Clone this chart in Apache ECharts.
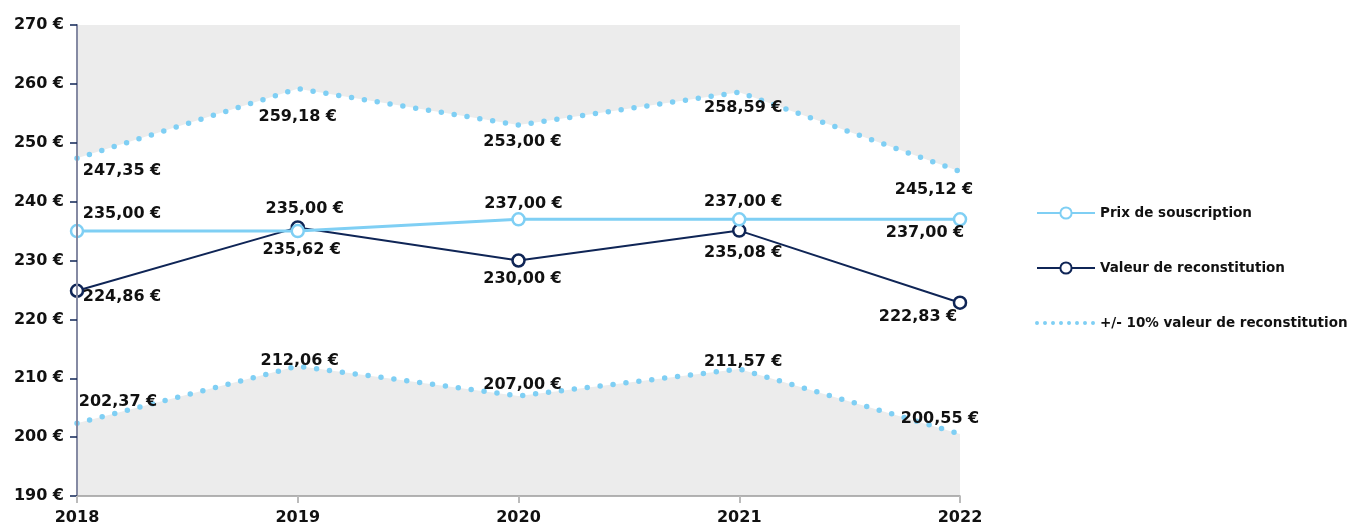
<!DOCTYPE html>
<html>
<head>
<meta charset="utf-8">
<script src="https://cdn.jsdelivr.net/npm/echarts@6/dist/echarts.min.js"></script>
<style>
    html, body { margin: 0; padding: 0; background: #fff; }
    #chart { width: 1355px; height: 526px; }
</style>
</head>
<body>
<div id="chart"></div>
<script>
    var years = ['2018', '2019', '2020', '2021', '2022'];
    var prixSouscription = [235.00, 235.00, 237.00, 237.00, 237.00];
    var valeurReconstitution = [224.86, 235.62, 230.00, 235.08, 222.83];
    var bandeHaute = [247.35, 259.18, 253.00, 258.59, 245.12];
    var bandeBasse = [202.37, 212.06, 207.00, 211.57, 200.55];

    var lightBlue = '#7fcff4';
    var navy = '#0f2556';
    var font = 'DejaVu Sans';

    function euro(v) {
        return v.toFixed(2).replace('.', ',') + ' €';
    }

    // label offsets relative to each point (px)
    function withLabels(values, offsets) {
        return values.map(function (v, i) {
            return {
                value: v,
                label: { offset: offsets[i] }
            };
        });
    }

    var labelStyle = {
        show: true,
        position: 'inside',
        align: 'center',
        verticalAlign: 'middle',
        formatter: function (p) { return euro(p.value); },
        fontFamily: font,
        fontWeight: 'bold',
        fontSize: 16,
        color: '#111'
    };

    var dotted = {
        color: lightBlue,
        width: 5.5,
        type: [0, 13],
        cap: 'round'
    };

    var chart = echarts.init(document.getElementById('chart'));
    chart.setOption({
        animation: false,
        grid: {
            left: 77,
            right: 395,
            top: 25,
            bottom: 29,
            show: true,
            backgroundColor: '#ececec',
            borderWidth: 0
        },
        legend: {
            orient: 'vertical',
            left: 1030,
            top: 201,
            itemWidth: 58,
            itemHeight: 14,
            itemGap: 41,
            data: [
                'Prix de souscription',
                'Valeur de reconstitution',
                {
                    name: '+/- 10% valeur de reconstitution',
                    itemStyle: { opacity: 0 },
                    lineStyle: { color: lightBlue, width: 4, type: [0, 8], cap: 'round' }
                }
            ],
            textStyle: { fontFamily: font, fontWeight: 'bold', fontSize: 13.5, color: '#111' }
        },
        xAxis: {
            type: 'category',
            data: years,
            boundaryGap: false,
            axisLine: { lineStyle: { color: '#9a9a9a', width: 1.5 } },
            axisTick: { show: true, length: 7, lineStyle: { color: '#bbb', width: 2 } },
            axisLabel: { fontFamily: font, fontWeight: 'bold', fontSize: 16, color: '#111', margin: 14 },
            z: 10
        },
        yAxis: {
            type: 'value',
            min: 190,
            max: 270,
            interval: 10,
            axisLine: { show: true, lineStyle: { color: '#858aa3', width: 2 } },
            axisTick: { show: true, length: 7, lineStyle: { color: navy, width: 1.5 } },
            splitLine: { show: false },
            axisLabel: {
                fontFamily: font, fontWeight: 'bold', fontSize: 16, color: '#111', margin: 13,
                formatter: function (v) { return v + ' €'; }
            },
            z: 10
        },
        series: [
            // white band between the +/- 10% limits
            {
                type: 'line',
                stack: 'band',
                data: bandeBasse,
                symbol: 'none',
                lineStyle: { opacity: 0 },
                silent: true
            },
            {
                type: 'line',
                stack: 'band',
                data: bandeHaute.map(function (v, i) { return +(v - bandeBasse[i]).toFixed(2); }),
                symbol: 'none',
                lineStyle: { opacity: 0 },
                areaStyle: { color: '#ffffff', opacity: 1 },
                silent: true
            },
            {
                name: '+/- 10% valeur de reconstitution',
                type: 'line',
                data: bandeHaute,
                symbol: 'none',
                itemStyle: { color: lightBlue },
                lineStyle: dotted,
                z: 3
            },
            {
                name: '+/- 10% valeur de reconstitution',
                type: 'line',
                data: bandeBasse,
                symbol: 'none',
                itemStyle: { color: lightBlue },
                lineStyle: dotted,
                z: 3
            },
            // value labels of the +/- 10% limits
            {
                type: 'scatter',
                data: withLabels(bandeHaute, [[45, 12], [0, 28], [4, 17], [4, 16], [-26, 18]]),
                symbolSize: 1,
                itemStyle: { color: 'rgba(0,0,0,0)', opacity: 1 },
                label: labelStyle,
                silent: true,
                z: 6
            },
            {
                type: 'scatter',
                data: withLabels(bandeBasse, [[41, -21], [2, -5], [4, -11], [4, -7], [-20, -15]]),
                symbolSize: 1,
                itemStyle: { color: 'rgba(0,0,0,0)', opacity: 1 },
                label: labelStyle,
                silent: true,
                z: 6
            },
            {
                name: 'Valeur de reconstitution',
                type: 'line',
                data: withLabels(valeurReconstitution, [[45, 6], [4, 22], [4, 18], [4, 22], [-42, 14]]),
                symbol: 'circle',
                symbolSize: 12,
                itemStyle: { color: '#fff', borderColor: navy, borderWidth: 2.5 },
                lineStyle: { color: navy, width: 2 },
                label: labelStyle,
                z: 4
            },
            {
                name: 'Prix de souscription',
                type: 'line',
                data: withLabels(prixSouscription, [[45, -17], [7, -22], [5, -15], [4, -17], [-35, 14]]),
                symbol: 'circle',
                symbolSize: 12,
                itemStyle: { color: '#fff', borderColor: lightBlue, borderWidth: 2.5 },
                lineStyle: { color: lightBlue, width: 3 },
                label: labelStyle,
                z: 5
            }
        ]
    });
</script>
</body>
</html>
